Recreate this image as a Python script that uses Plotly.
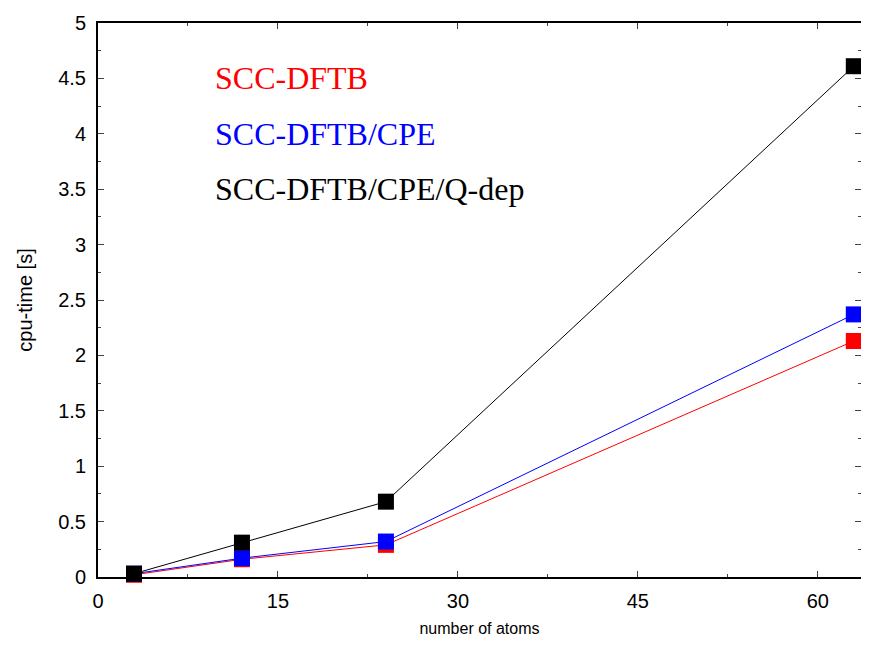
import plotly.graph_objects as go

atoms = [3, 12, 24, 63]
scc_dftb = [0.02, 0.16, 0.29, 2.13]
scc_dftb_cpe = [0.03, 0.17, 0.32, 2.37]
scc_dftb_cpe_qdep = [0.03, 0.31, 0.68, 4.61]

series = [
    ("SCC-DFTB", scc_dftb, "#ff0000", 4.5),
    ("SCC-DFTB/CPE", scc_dftb_cpe, "#0000ff", 4.0),
    ("SCC-DFTB/CPE/Q-dep", scc_dftb_cpe_qdep, "#000000", 3.5),
]

fig = go.Figure()
for name, vals, color, ly in series:
    fig.add_trace(go.Scatter(
        x=atoms, y=vals, mode="lines+markers", name=name,
        line=dict(color=color, width=1),
        marker=dict(symbol="square", size=16, color=color),
        showlegend=False, cliponaxis=False,
    ))
    fig.add_annotation(x=9.6, y=ly, xref="x", yref="y", text=name, showarrow=False,
                       xanchor="left", yanchor="middle",
                       font=dict(family="Liberation Serif", size=32, color=color))

fig.update_layout(
    width=853, height=629,
    margin=dict(l=90, r=0, t=15, b=60, autoexpand=False),
    plot_bgcolor="white", paper_bgcolor="white",
    font=dict(family="Liberation Sans", size=20, color="black"),
)
fig.update_xaxes(
    range=[0, 63.6], tick0=0, dtick=15, ticks="inside", ticklen=6, tickwidth=1,
    showline=True, linecolor="black", linewidth=2, mirror="ticks",
    showgrid=False, zeroline=False, ticklabelstandoff=5,
    minor=dict(ticks="inside", ticklen=3, dtick=7.5, tick0=0, showgrid=False),
    title=dict(text="number of atoms", font=dict(size=16), standoff=15),
)
fig.update_yaxes(
    range=[0, 5], tick0=0, dtick=0.5, ticks="inside", ticklen=6, tickwidth=1,
    showline=True, linecolor="black", linewidth=2, mirror="ticks",
    showgrid=False, zeroline=False, ticklabelstandoff=6,
    minor=dict(ticks="inside", ticklen=3, dtick=0.25, tick0=0, showgrid=False),
    title=dict(text="cpu-time [s]", font=dict(size=20), standoff=20),
)

fig.write_html("out.html")
